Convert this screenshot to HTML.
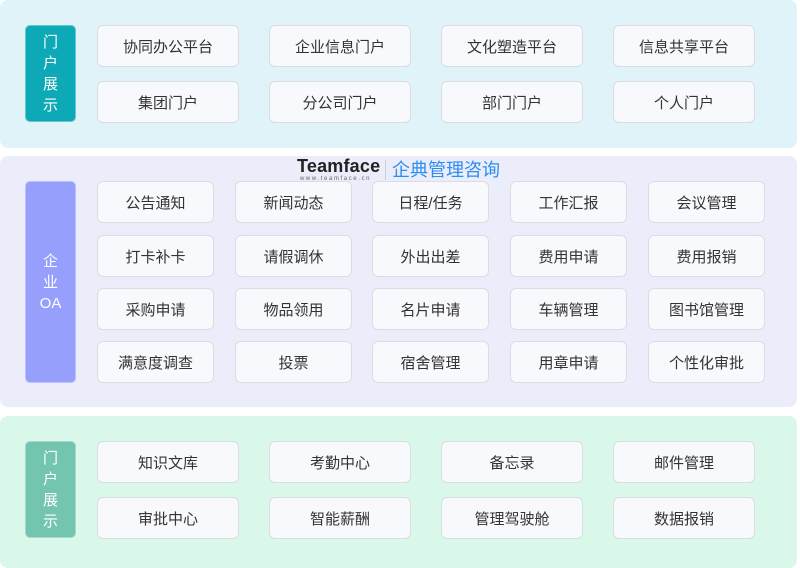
<!DOCTYPE html>
<html><head><meta charset="utf-8"><style>
body{margin:0;width:800px;height:565px;background:#fff;position:relative;overflow:hidden;font-family:"Liberation Sans","Noto Sans CJK SC",sans-serif}
.s{position:absolute;left:0;width:797px;border-radius:8px}
.l{position:absolute;left:25px;width:51px;border-radius:5px;color:#fff;font-size:15px;line-height:21px;display:flex;align-items:center;justify-content:center;text-align:center;box-sizing:border-box;border:1px solid rgba(255,255,255,.35)}
.b{position:absolute;background:#f8f9fc;border:1px solid #dcdde3;border-radius:6px;box-sizing:border-box;display:flex;align-items:center;justify-content:center;font-size:15px;color:#333}
</style></head><body>
<div class="s" style="top:0;height:148px;background:#dff3f8"></div>
<div class="s" style="top:156px;height:251px;background:#ebedfa"></div>
<div class="s" style="top:416px;height:152px;background:#d9f8ea"></div>
<div class="l" style="top:25px;height:97px;background:#0ea9b6">门<br>户<br>展<br>示</div>
<div class="l" style="top:181px;height:202px;background:#979ffd">企<br>业<br>OA</div>
<div class="l" style="top:441px;height:97px;background:#74c5b0">门<br>户<br>展<br>示</div>
<div style="position:absolute;left:297px;top:156px;font-weight:bold;font-size:18px;color:#222;letter-spacing:0.2px">Teamface</div>
<div style="position:absolute;left:300px;top:176px;font-size:6px;color:#666;letter-spacing:1.6px">www.teamface.cn</div>
<div style="position:absolute;left:385px;top:160px;width:1px;height:20px;background:#ccd"></div>
<div style="position:absolute;left:392px;top:156px;font-size:18px;color:#2c8ef0">企典管理咨询</div>

<div class="b" style="left:97px;top:25px;width:142px;height:42px">协同办公平台</div>
<div class="b" style="left:269px;top:25px;width:142px;height:42px">企业信息门户</div>
<div class="b" style="left:441px;top:25px;width:142px;height:42px">文化塑造平台</div>
<div class="b" style="left:613px;top:25px;width:142px;height:42px">信息共享平台</div>
<div class="b" style="left:97px;top:81px;width:142px;height:42px">集团门户</div>
<div class="b" style="left:269px;top:81px;width:142px;height:42px">分公司门户</div>
<div class="b" style="left:441px;top:81px;width:142px;height:42px">部门门户</div>
<div class="b" style="left:613px;top:81px;width:142px;height:42px">个人门户</div>

<div class="b" style="left:97px;top:181px;width:117px;height:42px">公告通知</div>
<div class="b" style="left:235px;top:181px;width:117px;height:42px">新闻动态</div>
<div class="b" style="left:372px;top:181px;width:117px;height:42px">日程/任务</div>
<div class="b" style="left:510px;top:181px;width:117px;height:42px">工作汇报</div>
<div class="b" style="left:648px;top:181px;width:117px;height:42px">会议管理</div>
<div class="b" style="left:97px;top:235px;width:117px;height:42px">打卡补卡</div>
<div class="b" style="left:235px;top:235px;width:117px;height:42px">请假调休</div>
<div class="b" style="left:372px;top:235px;width:117px;height:42px">外出出差</div>
<div class="b" style="left:510px;top:235px;width:117px;height:42px">费用申请</div>
<div class="b" style="left:648px;top:235px;width:117px;height:42px">费用报销</div>
<div class="b" style="left:97px;top:288px;width:117px;height:42px">采购申请</div>
<div class="b" style="left:235px;top:288px;width:117px;height:42px">物品领用</div>
<div class="b" style="left:372px;top:288px;width:117px;height:42px">名片申请</div>
<div class="b" style="left:510px;top:288px;width:117px;height:42px">车辆管理</div>
<div class="b" style="left:648px;top:288px;width:117px;height:42px">图书馆管理</div>
<div class="b" style="left:97px;top:341px;width:117px;height:42px">满意度调查</div>
<div class="b" style="left:235px;top:341px;width:117px;height:42px">投票</div>
<div class="b" style="left:372px;top:341px;width:117px;height:42px">宿舍管理</div>
<div class="b" style="left:510px;top:341px;width:117px;height:42px">用章申请</div>
<div class="b" style="left:648px;top:341px;width:117px;height:42px">个性化审批</div>

<div class="b" style="left:97px;top:441px;width:142px;height:42px">知识文库</div>
<div class="b" style="left:269px;top:441px;width:142px;height:42px">考勤中心</div>
<div class="b" style="left:441px;top:441px;width:142px;height:42px">备忘录</div>
<div class="b" style="left:613px;top:441px;width:142px;height:42px">邮件管理</div>
<div class="b" style="left:97px;top:497px;width:142px;height:42px">审批中心</div>
<div class="b" style="left:269px;top:497px;width:142px;height:42px">智能薪酬</div>
<div class="b" style="left:441px;top:497px;width:142px;height:42px">管理驾驶舱</div>
<div class="b" style="left:613px;top:497px;width:142px;height:42px">数据报销</div>
</body></html>
